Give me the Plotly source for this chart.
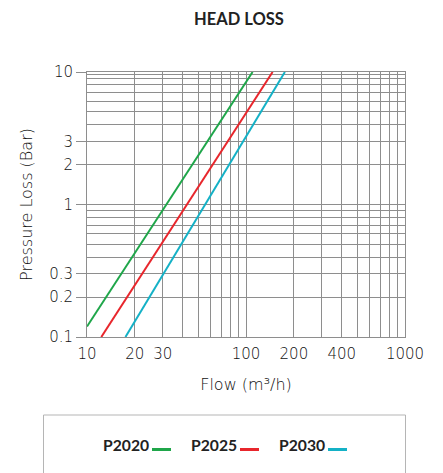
import plotly.graph_objects as go

# ---- data ----
series_names = ["P2020", "P2025", "P2030"]
series_colors = ["#1fa64a", "#e8262c", "#14b1c6"]
flow_p2020 = [10, 110]
loss_p2020 = [0.12, 10]
flow_p2025 = [12.3, 147]
loss_p2025 = [0.1, 10]
flow_p2030 = [17.45, 175.6]
loss_p2030 = [0.1, 10]

x_tick_vals = [10, 20, 30, 100, 200, 400, 1000]
x_tick_text = ["10", "20", "30", "100", "200", "400", "1000"]
x_minor_vals = [40, 50, 60, 70, 80, 90, 300, 500, 600, 700, 800, 900]
y_tick_vals = [0.1, 0.2, 0.3, 1, 2, 3, 10]
y_tick_text = ["0.1", "0.2", "0.3", "1", "2", "3", "10"]
y_minor_vals = [0.4, 0.5, 0.6, 0.7, 0.8, 0.9, 4, 5, 6, 7, 8, 9, 9.5]

FONT = "DejaVu Sans"
BOLD_FONT = "Lato"
GRID = "#8e8e8e"
TXT = "#111111"

flows = [flow_p2020, flow_p2025, flow_p2030]
losses = [loss_p2020, loss_p2025, loss_p2030]

fig = go.Figure()
for name, color, fx, ly in zip(series_names, series_colors, flows, losses):
    fig.add_trace(go.Scatter(x=fx, y=ly, mode="lines", name=name,
                             line=dict(color=color, width=2), showlegend=False,
                             cliponaxis=True))

W, H = 443, 473
ml, mt = 79, 64
pw, ph = 318, 265
mr, mb = W - ml - pw, H - mt - ph

def px_to_paper_x(px):
    return (px - ml) / pw

def py_to_paper_y(py):
    return (H - mb - py) / ph

fig.update_layout(
    width=W, height=H,
    margin=dict(l=ml, r=mr, t=mt, b=mb),
    paper_bgcolor="white", plot_bgcolor="white",
    font=dict(family=FONT, size=16, color=TXT, weight=300),
    title=dict(text="<b>HEAD LOSS</b>", x=231 / W, xanchor="center",
               y=1 - 11 / H, yanchor="middle", yref="container",
               font=dict(family=BOLD_FONT, size=16.5, color="#222222")),
    xaxis=dict(type="log", range=[1, 3],
               tickmode="array", tickvals=x_tick_vals, ticktext=x_tick_text,
               ticks="", showgrid=True, gridcolor=GRID, gridwidth=1,
               showline=True, linecolor=GRID, linewidth=1, mirror=True,
               minor=dict(tickmode="array", tickvals=x_minor_vals, showgrid=True,
                          gridcolor=GRID, gridwidth=1, ticks=""),
               tickfont=dict(family=FONT, size=15, color=TXT, weight=300),
               ticklabelstandoff=3,
               title=dict(text="Flow (m³/h)", standoff=16,
                          font=dict(family=FONT, size=16, color=TXT, weight=300)),
               zeroline=False),
    yaxis=dict(type="log", range=[-1, 1],
               tickmode="array", tickvals=y_tick_vals, ticktext=y_tick_text,
               ticks="outside", ticklen=10, tickcolor=GRID, tickwidth=1,
               showgrid=True, gridcolor=GRID, gridwidth=1,
               showline=True, linecolor=GRID, linewidth=1, mirror=True,
               minor=dict(tickmode="array", tickvals=y_minor_vals, showgrid=True,
                          gridcolor=GRID, gridwidth=1, ticks=""),
               tickfont=dict(family=FONT, size=15, color=TXT, weight=300),
               title=dict(text="Pressure Loss (Bar)", standoff=12,
                          font=dict(family=FONT, size=16, color=TXT, weight=300)),
               zeroline=False),
)

# ---- legend box (text first, swatch after, as in the reference) ----
shapes = [dict(type="rect", xref="paper", yref="paper",
               x0=px_to_paper_x(35.5), x1=px_to_paper_x(397.5),
               y0=py_to_paper_y(490), y1=py_to_paper_y(407),
               line=dict(color="#b5b5b5", width=1), fillcolor="rgba(0,0,0,0)")]
annotations = []
item_left = 93
item_pitch = 88
for i, (name, color) in enumerate(zip(series_names, series_colors)):
    left = item_left + i * item_pitch
    annotations.append(dict(text="<b>" + name + "</b>", xref="paper", yref="paper",
                            x=px_to_paper_x(left), y=py_to_paper_y(436.5),
                            xanchor="left", yanchor="middle", showarrow=False,
                            font=dict(family=BOLD_FONT, size=15.7, color="#222222")))
    shapes.append(dict(type="line", xref="paper", yref="paper",
                       x0=px_to_paper_x(left + 51), x1=px_to_paper_x(left + 70),
                       y0=py_to_paper_y(441.5), y1=py_to_paper_y(441.5),
                       line=dict(color=color, width=3)))
fig.update_layout(shapes=shapes, annotations=annotations)

fig.write_html("out.html")
